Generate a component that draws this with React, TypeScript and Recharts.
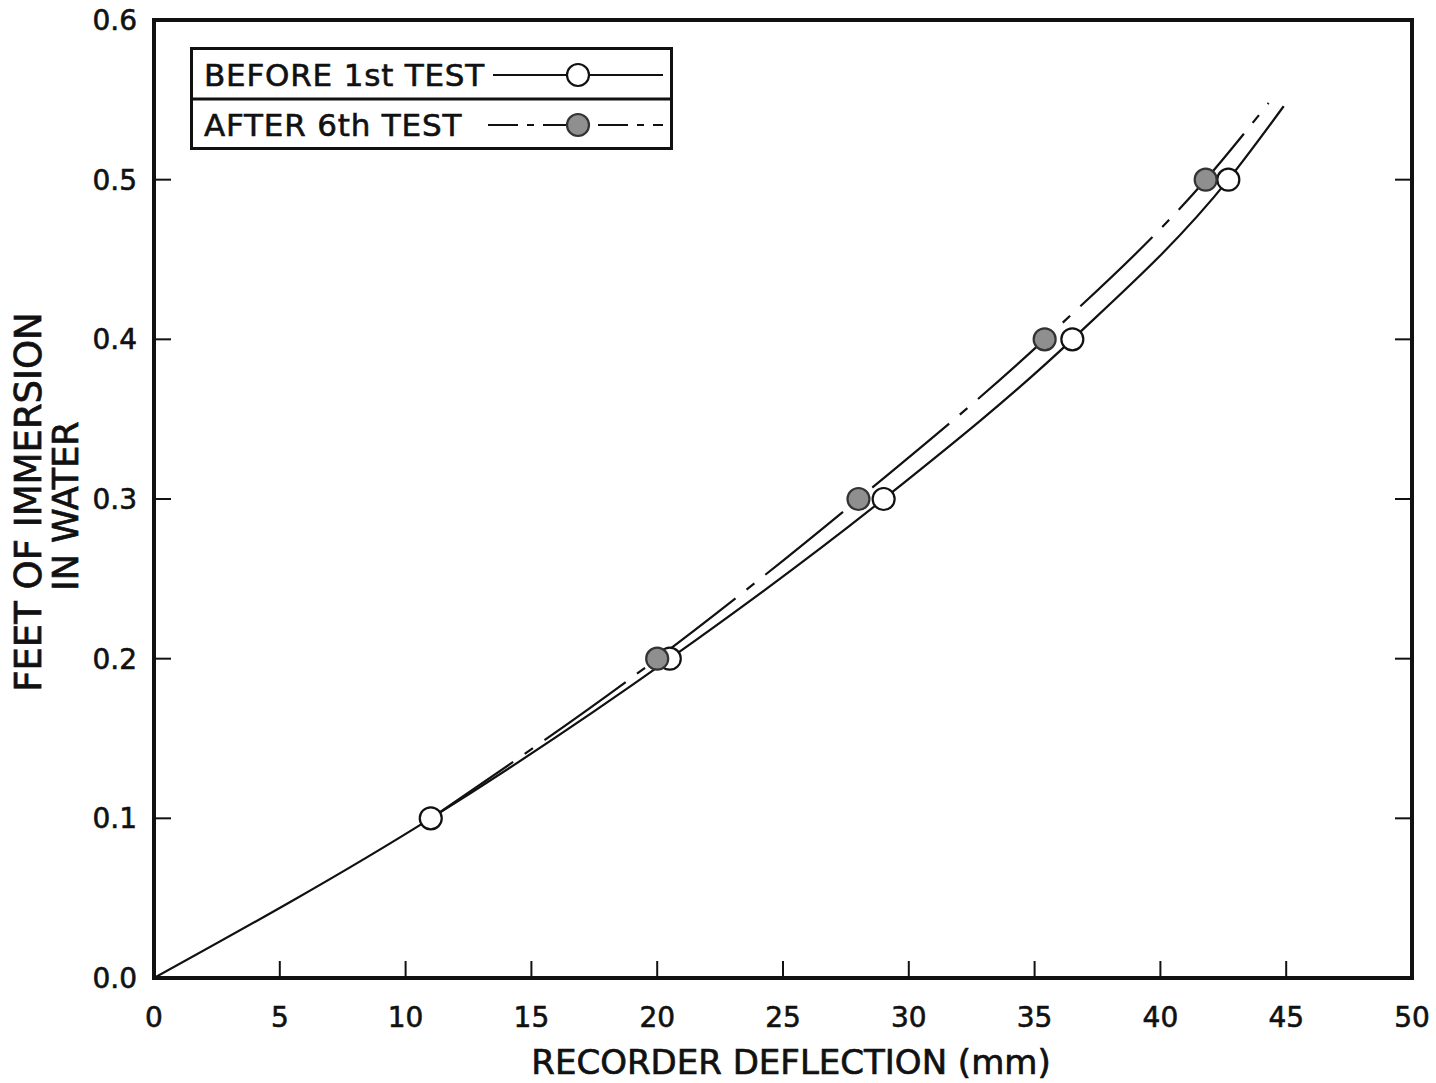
import { ComposedChart, Line, Scatter, XAxis, YAxis, Legend, Label } from 'recharts'

// axis ticks
const xTicks = [0, 5, 10, 15, 20, 25, 30, 35, 40, 45, 50]
const yTicks = [0, 0.1, 0.2, 0.3, 0.4, 0.5, 0.6]

// measured points
const beforeX = [11, 20.5, 29, 36.5, 42.7]
const beforeY = [0.1, 0.2, 0.3, 0.4, 0.5]
const afterX = [20, 28, 35.4, 41.8]
const afterY = [0.2, 0.3, 0.4, 0.5]

// faired curves
const beforeCurveX = [0, 11, 20.5, 29, 36.5, 42.7, 44.9]
const beforeCurveY = [0, 0.1, 0.2, 0.3, 0.4, 0.5, 0.546]
const afterCurveX = [11, 20, 28, 35.4, 41.8, 44.3]
const afterCurveY = [0.1, 0.2, 0.3, 0.4, 0.5, 0.548]

const seriesNames = ['BEFORE 1st TEST', 'AFTER 6th TEST']
const xTitle = 'RECORDER DEFLECTION (mm)'
const yTitle = ['FEET OF IMMERSION', 'IN WATER']

const toPoints = (xs: number[], ys: number[]) => xs.map((x, i) => ({ x, y: ys[i] }))

const INK = '#111'
const FONT = '"DejaVu Sans", sans-serif'
const DASH_DOT = '100 14 10 14'
const GREY = '#8f8f8f'

const OpenDot = (p: any) => (
  <circle cx={p.cx} cy={p.cy} r={11} fill="#fff" stroke={INK} strokeWidth={2.2} />
)
const FilledDot = (p: any) => (
  <circle cx={p.cx} cy={p.cy} r={11} fill={GREY} stroke="#333" strokeWidth={2.2} />
)

function YTitle(props: any) {
  const vb = props.viewBox
  const cy = vb.y + vb.height / 2
  return (
    <g fill={INK} stroke={INK} strokeWidth={0.7} fontFamily={FONT}>
      <text transform={`translate(28, ${cy + 3}) rotate(-90)`} textAnchor="middle"
        dominantBaseline="central" fontSize={37}>{yTitle[0]}</text>
      <text transform={`translate(66, ${cy + 7}) rotate(-90)`} textAnchor="middle"
        dominantBaseline="central" fontSize={35}>{yTitle[1]}</text>
    </g>
  )
}

function XTitle(props: any) {
  const vb = props.viewBox
  return (
    <text x={vb.x + vb.width / 2 + 8} y={1062} textAnchor="middle" dominantBaseline="central"
      fontSize={34} fill={INK} stroke={INK} strokeWidth={0.7} fontFamily={FONT}>{xTitle}</text>
  )
}

function LegendBox() {
  return (
    <svg width={483} height={103} style={{ display: 'block' }}>
      <rect x={1.5} y={1.5} width={480} height={100} fill="#fff" stroke={INK} strokeWidth={3} />
      <line x1={1.5} x2={481.5} y1={52} y2={52} stroke={INK} strokeWidth={3} />
      <g fontFamily={FONT} fontSize={31} fill={INK} stroke={INK} strokeWidth={0.6} letterSpacing={0.8}>
        <text x={14} y={28} dominantBaseline="central">{seriesNames[0]}</text>
        <text x={14} y={78} dominantBaseline="central">{seriesNames[1]}</text>
      </g>
      <line x1={303} x2={473} y1={28} y2={28} stroke={INK} strokeWidth={2.2} />
      <circle cx={388} cy={28} r={11} fill="#fff" stroke={INK} strokeWidth={2.2} />
      <line x1={298} x2={473} y1={78} y2={78} stroke={INK} strokeWidth={2.2} strokeDasharray="30 9 7 9" />
      <circle cx={388} cy={78} r={11} fill={GREY} stroke="#333" strokeWidth={2.2} />
    </svg>
  )
}

export default function App() {
  const axisLine = { stroke: INK, strokeWidth: 4, strokeLinecap: 'square' as const }
  const tickLine = { stroke: INK, strokeWidth: 2 }
  const tickStyle = { fontSize: 28, fill: INK, stroke: INK, strokeWidth: 0.6, fontFamily: FONT }
  return (
    <div style={{ position: 'absolute', left: 0, top: 0, width: 1436, height: 1083, background: '#fff' }}>
      <ComposedChart width={1436} height={1083} margin={{ top: 19, right: 23, bottom: 0, left: 0 }}
        style={{ fontFamily: FONT }}>
        <XAxis xAxisId={0} dataKey="x" type="number" domain={[0, 50]} ticks={xTicks}
          allowDataOverflow height={105} axisLine={axisLine} tickLine={tickLine}
          tickSize={-17} tickMargin={46} tick={tickStyle} interval={0}>
          <Label content={XTitle} />
        </XAxis>
        <XAxis xAxisId="top" orientation="top" type="number" domain={[0, 50]} ticks={xTicks}
          allowDataOverflow height={1} axisLine={axisLine} tickLine={tickLine}
          tickSize={-17} tick={() => <g />} interval={0} />
        <YAxis yAxisId={0} type="number" domain={[0, 0.6]} ticks={yTicks} allowDataOverflow
          width={154} axisLine={axisLine} tickLine={tickLine} tickSize={-17} tickMargin={34}
          tick={tickStyle} interval={0} tickFormatter={(v: number) => v.toFixed(1)}>
          <Label content={YTitle} />
        </YAxis>
        <YAxis yAxisId="right" orientation="right" type="number" domain={[0, 0.6]} ticks={yTicks}
          allowDataOverflow width={1} axisLine={axisLine} tickLine={tickLine} tickSize={-17}
          tick={() => <g />} interval={0} />
        <Legend layout="vertical" align="center" verticalAlign="middle"
          wrapperStyle={{ left: 190, top: 47, width: 483, height: 103 }} content={LegendBox} />
        <Line data={toPoints(beforeCurveX, beforeCurveY)} dataKey="y" type="monotone"
          stroke={INK} strokeWidth={2.2} dot={false} activeDot={false} isAnimationActive={false}
          legendType="none" />
        <Line data={toPoints(afterCurveX, afterCurveY)} dataKey="y" type="monotone"
          stroke={INK} strokeWidth={2.2} strokeDasharray={DASH_DOT} dot={false} activeDot={false}
          isAnimationActive={false} legendType="none" />
        <Scatter name={seriesNames[0]} data={toPoints(beforeX, beforeY)} dataKey="y"
          shape={OpenDot} isAnimationActive={false} />
        <Scatter name={seriesNames[1]} data={toPoints(afterX, afterY)} dataKey="y"
          shape={FilledDot} isAnimationActive={false} />
      </ComposedChart>
    </div>
  )
}
